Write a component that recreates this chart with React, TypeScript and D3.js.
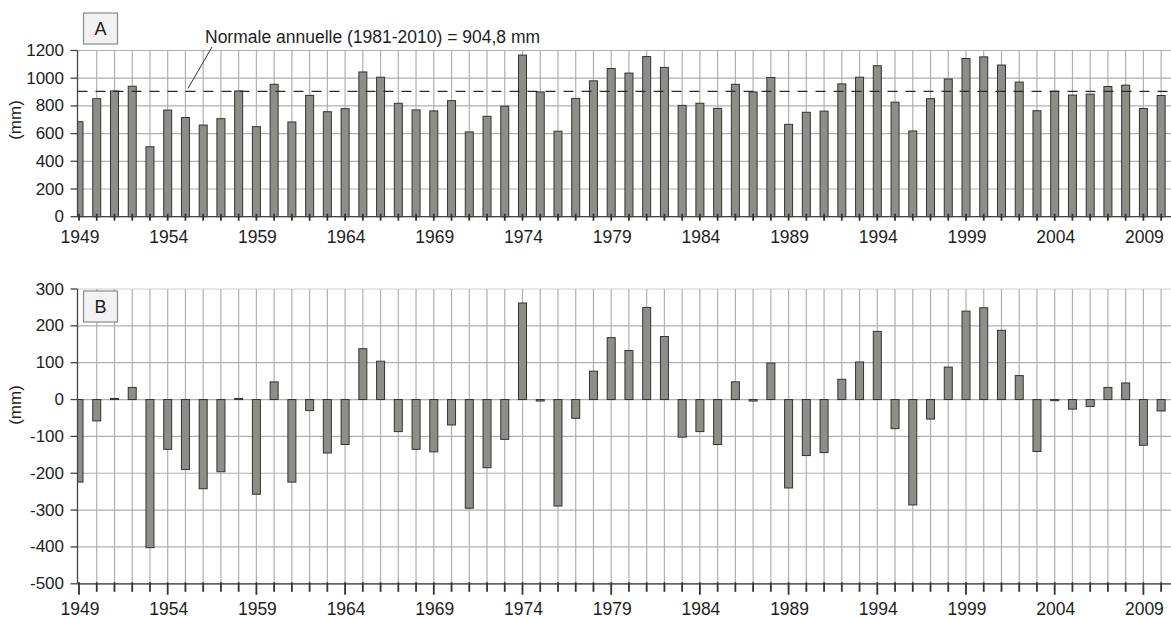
import React from "react";
import * as d3 from "d3";

const years: number[] = [
  1949, 1950, 1951, 1952, 1953, 1954, 1955, 1956, 1957, 1958,
  1959, 1960, 1961, 1962, 1963, 1964, 1965, 1966, 1967, 1968,
  1969, 1970, 1971, 1972, 1973, 1974, 1975, 1976, 1977, 1978,
  1979, 1980, 1981, 1982, 1983, 1984, 1985, 1986, 1987, 1988,
  1989, 1990, 1991, 1992, 1993, 1994, 1995, 1996, 1997, 1998,
  1999, 2000, 2001, 2002, 2003, 2004, 2005, 2006, 2007, 2008,
  2009, 2010,
];

const annualTotals: number[] = [
  686, 852, 908, 942, 505, 770, 716, 662, 708, 908,
  650, 956, 684, 876, 758, 780, 1045, 1007, 819, 771,
  764, 838, 612, 725, 798, 1167, 901, 617, 854, 981,
  1070, 1037, 1156, 1078, 804, 819, 782, 956, 901, 1005,
  667, 754, 762, 959, 1007, 1090, 827, 619, 852, 994,
  1142, 1154, 1095, 972, 765, 906, 878, 885, 940, 950,
  781, 875,
];

const anomalies: number[] = [
  -224, -58, 3, 33, -402, -135, -190, -242, -196, 3,
  -257, 48, -224, -30, -145, -122, 138, 104, -87, -135,
  -142, -69, -295, -185, -108, 262, -4, -289, -51, 77,
  168, 133, 250, 171, -102, -87, -122, 48, -4, 99,
  -240, -152, -144, 55, 102, 185, -79, -286, -53, 88,
  240, 249, 188, 65, -141, -3, -26, -19, 33, 45,
  -124, -31,
];

const normale = 904.8;
const normaleLabel = "Normale annuelle (1981-2010) = 904,8 mm";
const ticksA: number[] = [0, 200, 400, 600, 800, 1000, 1200];
const ticksB: number[] = [-500, -400, -300, -200, -100, 0, 100, 200, 300];
const labelYears: number[] = [1949, 1954, 1959, 1964, 1969, 1974, 1979, 1984, 1989, 1994, 1999, 2004, 2009];

const W = 1171;
const H = 618;
const AXIS_X = 77.5;
const RIGHT = 1180;
const FONT = "'Liberation Sans', Arial, sans-serif";
const BAR_W = 8;
const GRID = "#b0b0b0";
const BAR_FILL = "#8e8e89";
const BAR_STROKE = "#333";
const TXT = "#1e1e1e";

const x = d3.scaleLinear().domain([1949, 2010]).range([79, 79 + 61 * 17.74]);

const yA = d3.scaleLinear().domain([0, 1200]).range([216.7, 50.5]);
const yB = d3.scaleLinear().domain([-500, 300]).range([583.8, 289]);

function Panel({
  y,
  ticks,
  values,
  base,
  letter,
  letterY,
  tickStyle,
  labelBaseline,
  mmY,
  clipId,
  topLight,
}: any) {
  const [d0, d1] = y.domain();
  const top = y(d1);
  const bottom = y(d0);
  return (
    <g>
      <defs>
        <clipPath id={clipId}>
          <rect x={AXIS_X} y={top - 2} width={RIGHT - AXIS_X} height={bottom - top + 4} />
        </clipPath>
      </defs>
      {ticks.map((t: number) => (
        <line
          key={"h" + t}
          x1={AXIS_X}
          x2={RIGHT}
          y1={y(t)}
          y2={y(t)}
          stroke={t === d1 && topLight ? "#d0d0d0" : GRID}
          strokeWidth={1.2}
        />
      ))}
      {years.slice(1).map((yr) => (
        <line
          key={"v" + yr}
          x1={x(yr)}
          x2={x(yr)}
          y1={top}
          y2={bottom}
          stroke={GRID}
          strokeWidth={1.2}
        />
      ))}
      <g clipPath={`url(#${clipId})`}>
        {values.map((v: number, i: number) => {
          const y0 = y(base);
          const y1 = y(v);
          return (
            <rect
              key={"b" + i}
              x={x(years[i]) - BAR_W / 2}
              y={Math.min(y0, y1)}
              width={BAR_W}
              height={Math.max(Math.abs(y1 - y0), 0.8)}
              fill={BAR_FILL}
              stroke={BAR_STROKE}
              strokeWidth={1}
            />
          );
        })}
      </g>
      <line x1={AXIS_X} x2={AXIS_X} y1={top} y2={bottom} stroke="#444" strokeWidth={1.3} />
      {ticks.map((t: number) => (
        <g key={"yt" + t}>
          <line x1={AXIS_X - 7} x2={AXIS_X} y1={y(t)} y2={y(t)} stroke="#444" strokeWidth={1.3} />
          <text
            x={64}
            y={y(t)}
            textAnchor="end"
            dominantBaseline="central"
            fontFamily={FONT}
            fontSize={17}
            fill={TXT}
          >
            {t}
          </text>
        </g>
      ))}
      <line x1={AXIS_X} x2={RIGHT} y1={bottom} y2={bottom} stroke="#444" strokeWidth={1.3} />
      {years.map((yr) => {
        const major = labelYears.includes(yr);
        const t1 = tickStyle === "cross" ? bottom - 3 : bottom - 1.5;
        const t2 = tickStyle === "cross" ? bottom + 4 : bottom + (major ? 11 : 8);
        return (
          <line
            key={"xt" + yr}
            x1={x(yr)}
            x2={x(yr)}
            y1={t1}
            y2={t2}
            stroke="#333"
            strokeWidth={1.8}
          />
        );
      })}
      {labelYears.map((yr) => (
        <text
          key={"xl" + yr}
          x={x(yr) + 1}
          y={labelBaseline}
          textAnchor="middle"
          fontFamily={FONT}
          fontSize={17.5}
          fill={TXT}
        >
          {yr}
        </text>
      ))}
      <text
        transform={`translate(21,${mmY}) rotate(-90)`}
        textAnchor="middle"
        fontFamily={FONT}
        fontSize={17}
        fill={TXT}
      >
        (mm)
      </text>
      <rect x={83.5} y={letterY} width={34} height={31} fill="#f2f2f2" stroke="#8a8a8a" strokeWidth={1.2} />
      <text
        x={100.5}
        y={letterY + 15.5}
        textAnchor="middle"
        dominantBaseline="central"
        fontFamily={FONT}
        fontSize={18}
        fill={TXT}
      >
        {letter}
      </text>
    </g>
  );
}

export default function App() {
  return (
    <svg
      width={W}
      height={H}
      viewBox={`0 0 ${W} ${H}`}
      style={{ position: "absolute", left: 0, top: 0, background: "#fff" }}
    >
      <rect x={0} y={0} width={W} height={H} fill="#fff" />
      <Panel
        y={yA}
        ticks={ticksA}
        values={annualTotals}
        base={0}
        letter="A"
        letterY={13}
        tickStyle="cross"
        labelBaseline={243}
        mmY={120}
        clipId="clipA"
        topLight={false}
      />
      <line
        x1={AXIS_X}
        x2={RIGHT}
        y1={yA(normale)}
        y2={yA(normale)}
        stroke="#2a2a2a"
        strokeWidth={1.2}
        strokeDasharray="10 8"
      />
      <line
        x1={188}
        y1={yA(normale) - 3}
        x2={212}
        y2={47}
        stroke="#333"
        strokeWidth={1}
      />
      <text x={205} y={43} fontFamily={FONT} fontSize={17.5} fill={TXT}>
        {normaleLabel}
      </text>
      <Panel
        y={yB}
        ticks={ticksB}
        values={anomalies}
        base={0}
        letter="B"
        letterY={291}
        tickStyle="down"
        labelBaseline={615}
        mmY={405}
        clipId="clipB"
        topLight={true}
      />
    </svg>
  );
}
